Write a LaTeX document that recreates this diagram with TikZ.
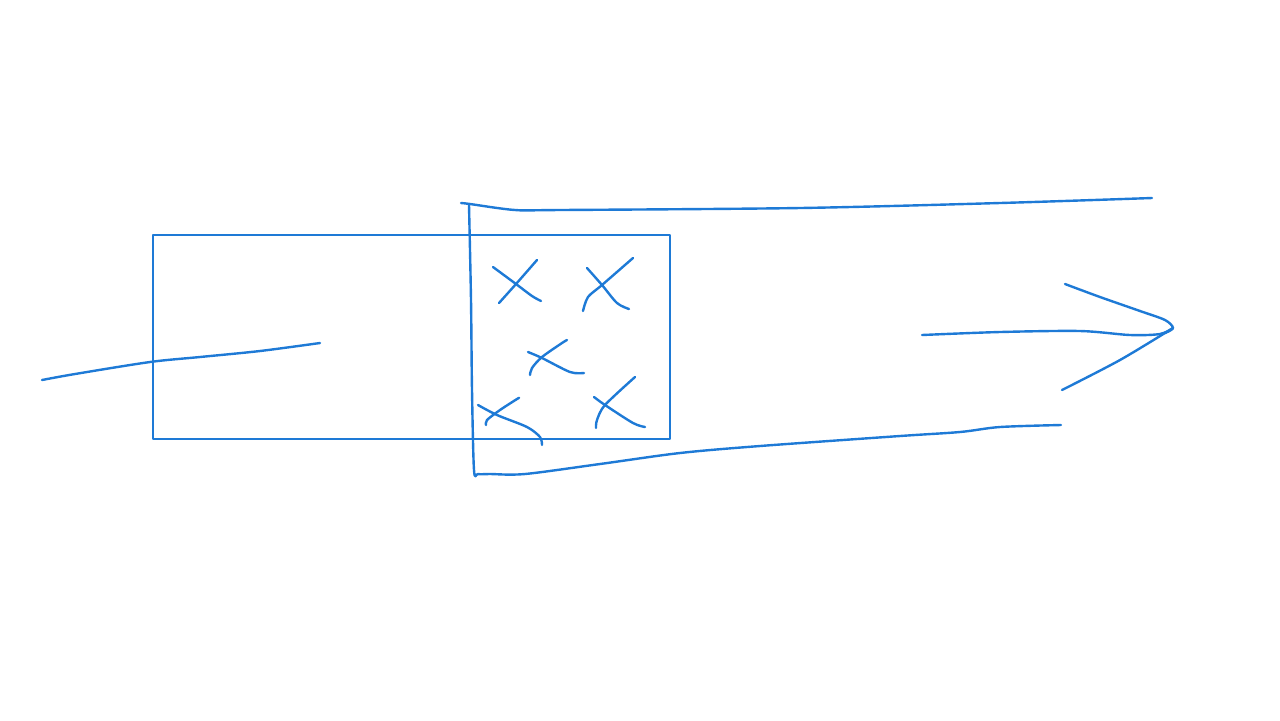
\documentclass[tikz,border=0pt]{standalone}
\usepackage{tikz}

\definecolor{inkblue}{RGB}{30,122,214}
\tikzset{
  pen/.style={draw=inkblue, line width=1.2pt, line cap=round, line join=round},
}

\begin{document}
\begin{tikzpicture}[x=0.5pt, y=-0.5pt]
    \useasboundingbox (0,0) rectangle (1280,720);
    % box
    \draw[pen] (153,235) rectangle (670,439);
    % incoming line
    \draw[pen] plot[smooth] coordinates {(42,380) (75,374) (150,362) (200,357) (260,351) (320,343)};
    % open tube
    \draw[pen] plot[smooth] coordinates {(461,203) (470,204) (515,210) (560,210) (800,208) (1000,203) (1152,198)};
    \draw[pen] plot[smooth] coordinates {(469,205) (471,300) (472,390) (474,470) (478,474) (490,474)
                                         (525,474) (600,464) (680,453) (760,446) (900,436) (960,432) (1000,427) (1061,425)};
    % crosses
    \draw[pen] plot[smooth] coordinates {(493,267) (516,284) (532,296) (541,301)};
    \draw[pen] plot[smooth] coordinates {(537,260) (516,284) (499,303)};
    \draw[pen] plot[smooth] coordinates {(587,268) (602,285) (617,303) (629,309)};
    \draw[pen] plot[smooth] coordinates {(633,258) (602,285) (588,297) (583,311)};
    \draw[pen] plot[smooth] coordinates {(528,352) (542,358) (570,372) (584,373)};
    \draw[pen] plot[smooth] coordinates {(567,340) (562,343) (542,357) (532,368) (530,375)};
    \draw[pen] plot[smooth] coordinates {(478,405) (497,415) (527,427) (540,437) (542,445)};
    \draw[pen] plot[smooth] coordinates {(519,398) (517,399) (500,410) (487,420) (486,425)};
    \draw[pen] plot[smooth] coordinates {(635,377) (605,405) (597,420) (596,428)};
    \draw[pen] plot[smooth] coordinates {(594,397) (605,405) (633,423) (645,427)};
    % outgoing arrow
    \coordinate (tip) at (1173,328);
    \draw[pen] plot[smooth] coordinates {(922,335) (1000,332) (1080,331) (1130,335) (1160,334) (tip)};
    \draw[pen] plot[smooth] coordinates {(1065,284) (1100,297) (1140,311) (1165,320) (tip) (1165,333)};
    \draw[pen] plot[smooth] coordinates {(tip) (1120,360) (1062,390)};
\end{tikzpicture}
\end{document}
